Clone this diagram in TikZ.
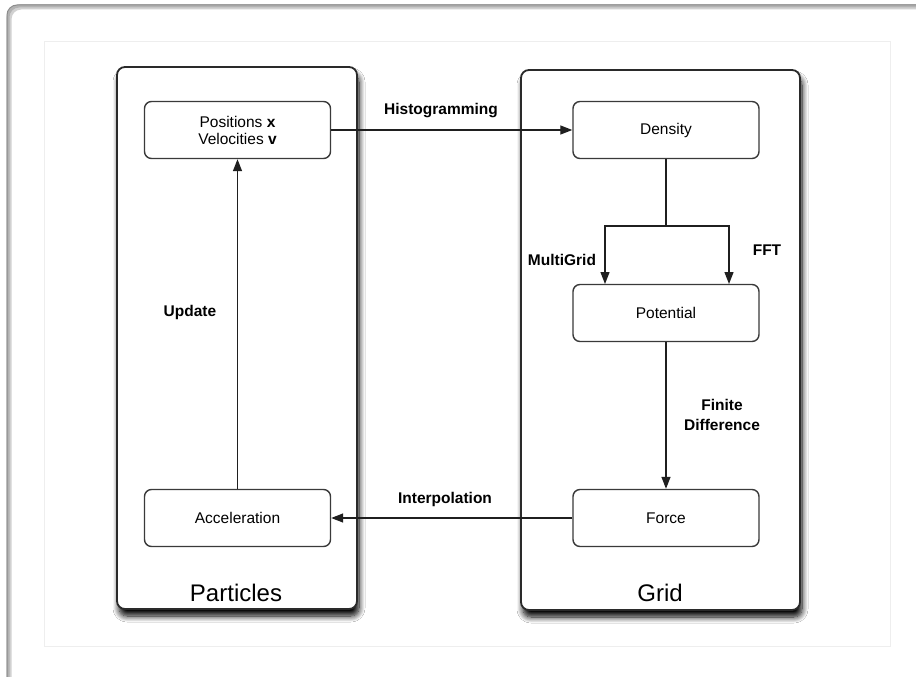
\documentclass[tikz,border=0pt]{standalone}
\usepackage{fontspec}
\setmainfont{Liberation Sans}
\usetikzlibrary{arrows.meta,shadows.blur}
\definecolor{edgec}{HTML}{2A2A2A}
\definecolor{boxc}{HTML}{3A3A3A}
\definecolor{framec}{HTML}{EEEEEE}
\tikzset{
  container/.style={draw=edgec, line width=1.8pt, rounded corners=8pt, fill=white,
    blur shadow={shadow xshift=2pt, shadow yshift=-7pt, shadow blur steps=10, shadow blur radius=6pt, shadow opacity=100, shadow blur extra rounding=2pt}},
  stepbox/.style={draw=boxc, line width=1.4pt, rounded corners=7pt, fill=white,
    minimum width=186pt, minimum height=57pt, inner sep=0pt, align=center,
    font=\fontsize{15.5}{17}\selectfont},
  conn/.style={draw=black!88, line width=1.3pt},
  arr/.style={conn, -{Triangle[length=12pt,width=9pt]}},
  elabel/.style={font=\fontsize{15.5}{20}\selectfont\bfseries, align=center, inner sep=0pt},
  title/.style={font=\fontsize{24}{28}\selectfont, inner sep=0pt}
}
\begin{document}
\begin{tikzpicture}[x=1pt,y=-1pt]
\useasboundingbox (0,0) rectangle (916,677);
\fill[white] (0,0) rectangle (916,677);
% outer frame with top/left inner shadow
\draw[line width=5pt, black!18, rounded corners=12pt] (940,7) -- (9,7) -- (9,700);
\draw[line width=3pt, black!30, rounded corners=11pt] (940,6) -- (8,6) -- (8,700);
\draw[line width=1pt, black!45, rounded corners=10pt] (940,5) -- (7,5) -- (7,700);
% inner light frame
\draw[framec, line width=1pt] (44,42) rectangle (890,646);
% containers
\node[container, minimum width=240pt, minimum height=542pt] (pc) at (237,338) {};
\node[container, minimum width=279pt, minimum height=540pt] (gc) at (660.5,340) {};
\node[title] (ptitle) at (236,593) {Particles};
\node[title] (gtitle) at (660,593) {Grid};
% boxes
\node[stepbox] (pos) at (237.5,130) {Positions \textbf{x}\\Velocities \textbf{v}};
\node[stepbox] (den) at (666,130) {Density};
\node[stepbox] (pot) at (666,313) {Potential};
\node[stepbox] (frc) at (666,518) {Force};
\node[stepbox] (acc) at (237.5,518) {Acceleration};
% connectors
\draw[arr] (pos) -- (den);
\coordinate (sp) at (666,226);
\coordinate (pl) at (605,284);
\coordinate (pr) at (729,284);
\draw[conn] (den) -- (sp);
\draw[arr] (sp) -| (pl);
\draw[arr] (sp) -| (pr);
\draw[arr] (pot) -- (frc);
\draw[arr] (frc) -- (acc);
\draw[arr] (acc) -- (pos);
% labels
\node[elabel] (lh) at (441,111) {Histogramming};
\node[elabel] (lm) at (562,260) {MultiGrid};
\node[elabel] (lf) at (767,250) {FFT};
\node[elabel] (ld) at (722,415) {Finite\\Difference};
\node[elabel] (li) at (445,499) {Interpolation};
\node[elabel] (lu) at (190,312) {Update};
\end{tikzpicture}
\end{document}
